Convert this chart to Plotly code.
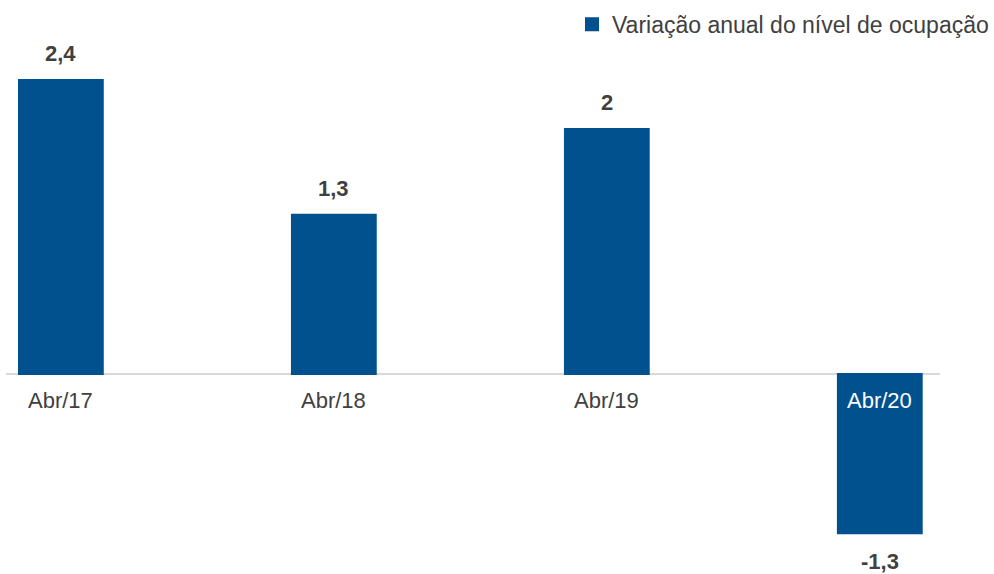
import plotly.graph_objects as go

categories = ["Abr/17", "Abr/18", "Abr/19", "Abr/20"]
values = [2.4, 1.3, 2.0, -1.3]
series_name = "Variação anual do nível de ocupação"

BAR = "#00518E"
TXT = "#404040"
FONT = "Liberation Sans, Arial, sans-serif"

def fmt(v):
    return f"{v:g}".replace(".", ",")

fig = go.Figure()
fig.add_trace(go.Bar(
    x=categories, y=values, name=series_name,
    marker=dict(color=BAR, line=dict(width=2, color=BAR)),
    width=0.307, showlegend=True,
))

ann = []
for c, v in zip(categories, values):
    if v >= 0:
        ann.append(dict(x=c, y=v, text=f"<b>{fmt(v)}</b>", showarrow=False,
                        yanchor="bottom", yshift=12,
                        font=dict(size=22, color=TXT, family=FONT)))
        ann.append(dict(x=c, y=0, text=c, showarrow=False, yanchor="top", yshift=-12,
                        font=dict(size=22, color=TXT, family=FONT)))
    else:
        ann.append(dict(x=c, y=v, text=f"<b>{fmt(v)}</b>", showarrow=False,
                        yanchor="top", yshift=-14,
                        font=dict(size=22, color=TXT, family=FONT)))
        ann.append(dict(x=c, y=0, text=c, showarrow=False, yanchor="top", yshift=-12,
                        font=dict(size=22, color="white", family=FONT)))

fig.update_layout(
    width=994, height=574,
    margin=dict(l=0, r=0, t=0, b=0),
    paper_bgcolor="white", plot_bgcolor="white",
    font=dict(family=FONT, color=TXT),
    xaxis=dict(type="category", range=[-0.223, 3.411], showticklabels=False,
               showgrid=False, zeroline=False, showline=False, fixedrange=True),
    yaxis=dict(range=[-1.633, 3.053], visible=False, showgrid=False, zeroline=False),
    legend=dict(x=1.002, xanchor="right", y=0.995, yanchor="top",
                font=dict(size=23, color=TXT, family=FONT),
                itemwidth=30, bgcolor="rgba(0,0,0,0)"),
    annotations=ann,
    shapes=[dict(type="line", xref="paper", yref="y", x0=6/994, x1=942/994, y0=0, y1=0,
                 line=dict(color="#D9D9D9", width=2), layer="below")],
)

fig.write_html("out.html")
